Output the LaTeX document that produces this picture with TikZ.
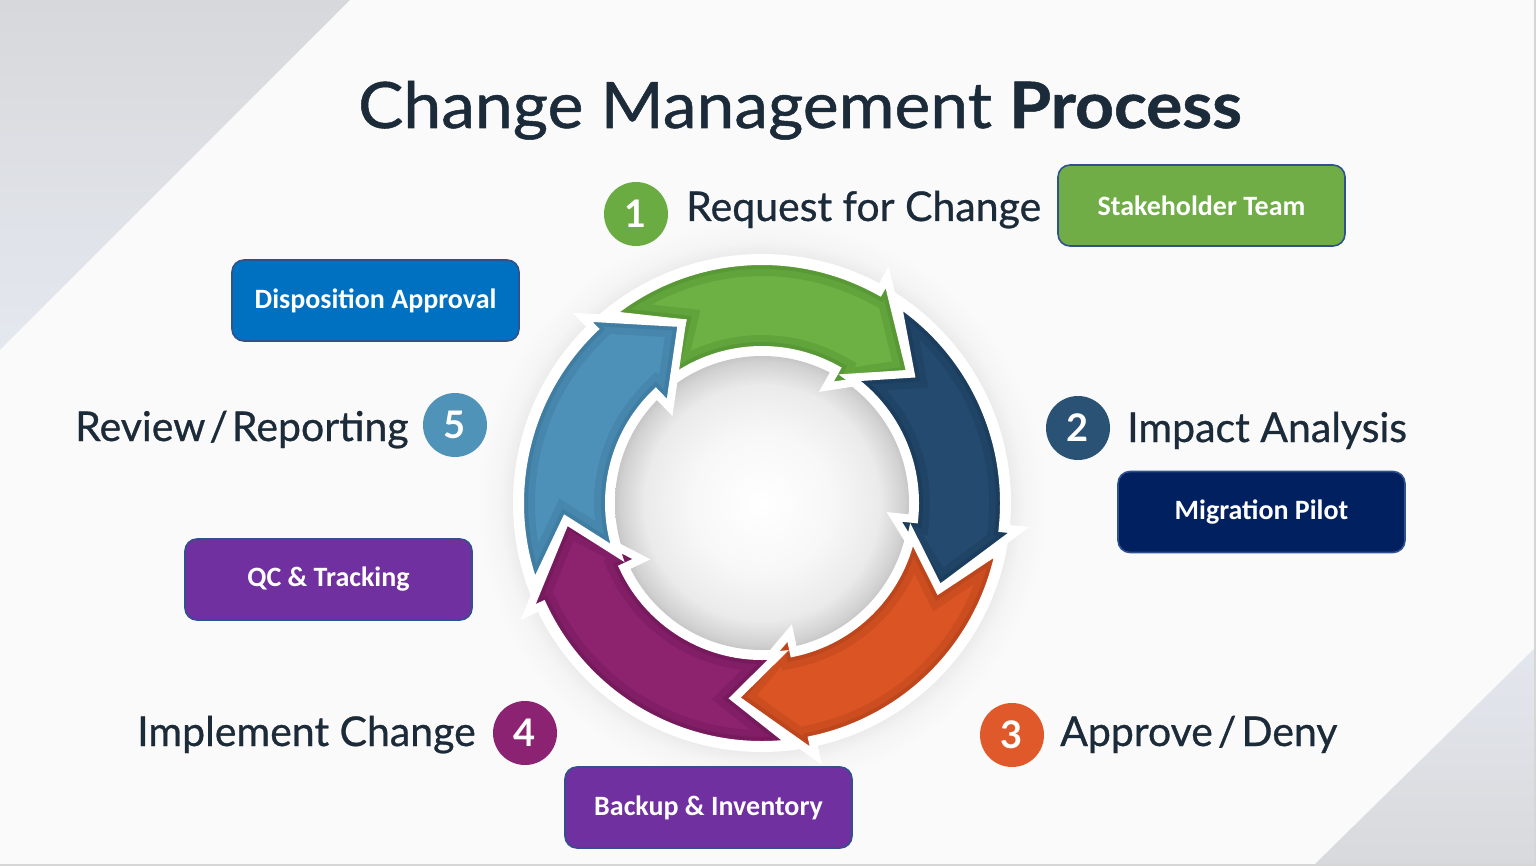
\documentclass[tikz,border=0pt]{standalone}
\usepackage{fontspec}
\setmainfont{Lato}
\newfontfamily\labfont{Lato}[FakeBold=0.7]
\newfontfamily\titlefont{Lato}[FakeStretch=1.06,FakeBold=0.8]
\newfontfamily\boxfont{Carlito}
\definecolor{bg}{HTML}{FAFAFA}
\definecolor{ink}{HTML}{1C2B39}
\definecolor{tlA}{HTML}{D7D8DB}
\definecolor{tlB}{HTML}{E4E8EF}
\definecolor{brA}{HTML}{E3E7EE}
\definecolor{brB}{HTML}{D8D9DC}
\definecolor{cg}{HTML}{6DB043}\definecolor{cgd}{HTML}{3F7A25}
\definecolor{cb}{HTML}{244B6F}\definecolor{cbd}{HTML}{142F4A}
\definecolor{co}{HTML}{DA5424}\definecolor{cod}{HTML}{9C3512}
\definecolor{cp}{HTML}{8D226F}\definecolor{cpd}{HTML}{5A1247}
\definecolor{cl}{HTML}{4E91B8}\definecolor{cld}{HTML}{2F6488}
\definecolor{n1}{HTML}{6AAB42}
\definecolor{n2}{HTML}{2A5275}
\definecolor{n3}{HTML}{E0592A}
\definecolor{n4}{HTML}{8B2372}
\definecolor{n5}{HTML}{4F93B8}
\definecolor{bxgreen}{HTML}{70AD47}
\definecolor{bxblue}{HTML}{0070C0}
\definecolor{bxnavy}{HTML}{002060}
\definecolor{bxpurple}{HTML}{7030A0}
\definecolor{bxline}{HTML}{2F528F}
\pgfdeclareradialshading{ringshadow}{\pgfpoint{0bp}{0bp}}{color(0bp)=(black!14); color(20.6bp)=(black!14); color(21.4bp)=(black!9); color(23bp)=(black!4); color(25bp)=(bg); color(50bp)=(bg)}
\pgfdeclareradialshading{discshade}{\pgfpoint{0bp}{0bp}}{color(0bp)=(white); color(12bp)=(white!97!black); color(20bp)=(black!8); color(24bp)=(black!18); color(25bp)=(black!22); color(50bp)=(black!22)}
\newcommand\ringarrow[7]{%
\begin{scope}
\clip (#3:242) arc[start angle=#3,end angle=#6,radius=242] -- (#6:258) -- (#7:197) -- (#6:133) -- (#6:153) arc[start angle=#6,end angle=#4,radius=153] -- (#5:197) -- cycle;
\fill[#1] (-300,-300) rectangle (300,300);
\draw[#2,line width=30pt,opacity=.22] (#3:242) arc[start angle=#3,end angle=#6,radius=242] -- (#6:258) -- (#7:197) -- (#6:133) -- (#6:153) arc[start angle=#6,end angle=#4,radius=153] -- (#5:197) -- cycle;
\draw[#2,line width=16pt,opacity=.28] (#3:242) arc[start angle=#3,end angle=#6,radius=242] -- (#6:258) -- (#7:197) -- (#6:133) -- (#6:153) arc[start angle=#6,end angle=#4,radius=153] -- (#5:197) -- cycle;
\draw[#2,line width=7pt,opacity=.35] (#3:242) arc[start angle=#3,end angle=#6,radius=242] -- (#6:258) -- (#7:197) -- (#6:133) -- (#6:153) arc[start angle=#6,end angle=#4,radius=153] -- (#5:197) -- cycle;
\end{scope}
\draw[white,line width=8pt,line join=miter,miter limit=3] (#3:242) arc[start angle=#3,end angle=#6,radius=242] -- (#6:258) -- (#7:197) -- (#6:133) -- (#6:153) arc[start angle=#6,end angle=#4,radius=153] -- (#5:197) -- cycle;
}
\tikzset{
  lab/.style={text=ink, font=\labfont\fontsize{41}{46}\selectfont, inner sep=0pt},
  num/.style={circle, minimum size=64pt, inner sep=0pt, text=white, font=\fontsize{38}{38}\selectfont\bfseries},
  tag/.style={rounded corners=12pt, draw=bxline, line width=1.6pt, minimum width=287pt, minimum height=81pt, inner sep=0pt, text=white, font=\boxfont\bfseries\fontsize{28}{30}\selectfont}
}
\begin{document}
\begin{tikzpicture}[x=1pt,y=1pt]
\useasboundingbox (0,0) rectangle (1536,-866);
% background
\fill[bg] (0,0) rectangle (1536,-866);
\shade[top color=tlA, bottom color=tlB] (0,0) -- (350,0) -- (0,-350) -- cycle;
\shade[top color=brA, bottom color=brB] (1536,-647) -- (1536,-866) -- (1313,-866) -- cycle;
\draw[black!16, line width=2pt] (1535,0) -- (1535,-865) -- (0,-865);
% title
\node[anchor=base, text=ink, inner sep=0pt, font=\titlefont\fontsize{64}{70}\selectfont] (title) at (800,-128) {Change Management \textbf{Process}};
% ring
\begin{scope}[shift={(762,-503)}]
\shade[shading=ringshadow] (0,0) circle (285);
\fill[white] (0,0) circle (249);
\shade[shading=discshade] (0,0) circle (147);
\ringarrow{cg}{cgd}{129}{128}{114}{61}{41}
\ringarrow{cb}{cbd}{56}{55}{41}{-6}{-26}
\ringarrow{co}{cod}{-11}{-12}{-26}{-78}{-98}
\ringarrow{cp}{cpd}{-83}{-84}{-98}{-155}{-175}
\ringarrow{cl}{cld}{200}{199}{185}{134}{114}
\end{scope}
% numbered labels
\node[num, fill=n1] (c1) at (636,-214) {1};
\node[lab, anchor=base west] (l1) at (686,-221) {Request for Change};
\node[num, fill=n2] (c2) at (1078,-428) {2};
\node[lab, anchor=base west] (l2) at (1127,-442) {Impact Analysis};
\node[num, fill=n3] (c3) at (1012,-735) {3};
\node[lab, anchor=base west] (l3) at (1060,-746) {Approve\hspace{5pt}/\hspace{5pt}Deny};
\node[num, fill=n4] (c4) at (525,-733) {4};
\node[lab, anchor=base west] (l4) at (137,-746) {Implement Change};
\node[num, fill=n5] (c5) at (455,-425) {5};
\node[lab, anchor=base west] (l5) at (75,-441) {Review\hspace{4pt}/\hspace{4pt}Reporting};
% boxes
\node[tag, fill=bxgreen] (b1) at (1201.5,-205.5) {Stakeholder Team};
\node[tag, fill=bxblue] (b2) at (375.5,-300.5) {Disposition Approval};
\node[tag, fill=bxnavy] (b3) at (1261.5,-512) {Migration Pilot};
\node[tag, fill=bxpurple] (b4) at (328.5,-579.5) {QC \& Tracking};
\node[tag, fill=bxpurple] (b5) at (708.5,-807.5) {Backup \& Inventory};
\end{tikzpicture}
\end{document}
